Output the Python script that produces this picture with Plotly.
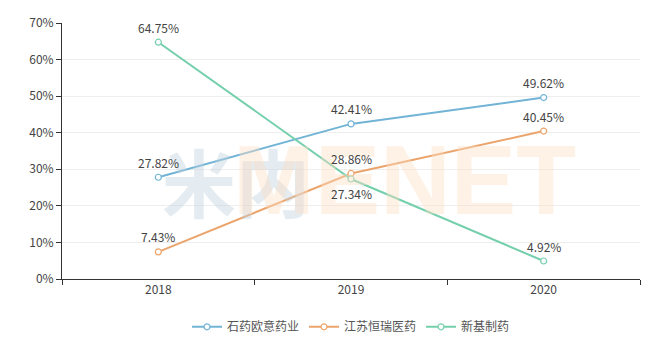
import plotly.graph_objects as go

years = ["2018", "2019", "2020"]
series_names = ["石药欧意药业", "江苏恒瑞医药", "新基制药"]
shiyao = [27.82, 42.41, 49.62]
hengrui = [7.43, 28.86, 40.45]
xinji = [64.75, 27.34, 4.92]
y_ticks = [0, 10, 20, 30, 40, 50, 60, 70]

colors = ["#72b4d6", "#eba46c", "#74cfac"]
# +1 = label above point, -1 = label below point
label_side = [
    [1, 1, 1],
    [1, 1, 1],
    [1, -1, 1],
]

font = "Noto Sans CJK SC, Microsoft YaHei, sans-serif"

fig = go.Figure()
for name, vals, col in zip(series_names, [shiyao, hengrui, xinji], colors):
    fig.add_trace(go.Scatter(
        x=years, y=vals, name=name, mode="lines+markers",
        line=dict(color=col, width=2),
        marker=dict(symbol="circle", size=6, color="white", line=dict(color=col, width=1.2)),
        cliponaxis=False,
    ))

fig.add_annotation(text="<b>米内</b>", xref="paper", yref="paper", x=0.17, y=0.387,
                   showarrow=False, font=dict(family=font, size=74, color="rgba(190,210,222,0.42)"))
fig.add_annotation(text="<b>MENET</b>", xref="paper", yref="paper", x=0.592, y=0.387,
                   showarrow=False, font=dict(family="Liberation Sans", size=98, color="rgba(252,222,196,0.42)"))

for vals, sides in zip([shiyao, hengrui, xinji], label_side):
    for i, (v, s) in enumerate(zip(vals, sides)):
        fig.add_annotation(x=i, y=v, xref="x", yref="y", text=f"{v:.2f}%", showarrow=False,
                           yanchor="middle", yshift=15 if s > 0 else -14,
                           font=dict(family=font, size=12, color="#444"))

fig.update_layout(
    width=661, height=354,
    margin=dict(l=62, r=21, t=23, b=75),
    paper_bgcolor="white", plot_bgcolor="white",
    font=dict(family=font, size=12, color="#444"),
    showlegend=True,
    legend=dict(orientation="h", x=0.5, xanchor="center", y=-0.13, yanchor="top",
                font=dict(size=12, color="#555"), itemwidth=30),
    xaxis=dict(type="category", range=[-0.5, 2.5], tickson="boundaries",
               ticks="outside", ticklen=5, tickcolor="#333",
               showline=True, linecolor="#333", linewidth=1,
               showgrid=False, tickfont=dict(size=12, color="#444")),
    yaxis=dict(range=[0, 70], tickvals=y_ticks, ticktext=[f"{v}%" for v in y_ticks],
               ticks="outside", ticklen=5, tickcolor="#333",
               showline=True, linecolor="#333", linewidth=1,
               showgrid=True, gridcolor="#eeeeee", zeroline=False,
               tickfont=dict(size=12, color="#444")),
)

fig.write_html("out.html")
